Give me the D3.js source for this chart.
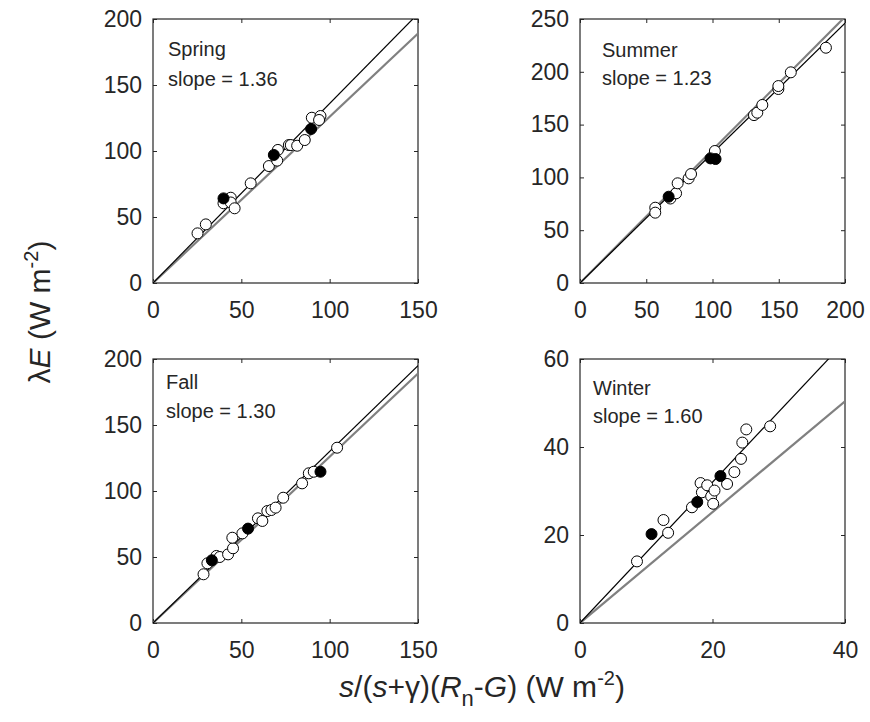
<!DOCTYPE html>
<html><head><meta charset="utf-8">
<script src="https://cdn.jsdelivr.net/npm/d3@7"></script>
<style>
body{margin:0;background:#fff;}
text{font-family:"Liberation Sans",Arial,sans-serif;fill:#262626;}
</style></head>
<body><svg id="c" width="870" height="722"></svg>
<script>
// ---------------- data ----------------
const seasons = ["Spring","Summer","Fall","Winter"];
const slopes = [1.36, 1.23, 1.30, 1.60];
const ptSlope = 1.26; // reference (gray) line slope
const xMax = [150, 200, 150, 40];
const yMax = [200, 250, 200, 60];
const xTickVals = [[0,50,100,150],[0,50,100,150,200],[0,50,100,150],[0,20,40]];
const yTickVals = [[0,50,100,150,200],[0,50,100,150,200,250],[0,50,100,150,200],[0,20,40,60]];

const springOpen = [[25.2,37.6],[29.9,44.4],[39.9,60.4],[44,64.6],[44,61],[46.2,56.6],[55.3,75.5],[65.6,88.6],[70.3,92.7],[70.7,100.8],[76.9,104.5],[78,104.5],[81.6,104],[85.9,108.3],[89.9,125.2],[94.8,126.5],[94,123.5]];
const springFilled = [[39.9,64.1],[68.4,97],[89.5,116.7]];
const summerOpen = [[56.8,71.3],[56.8,66.6],[68.2,80],[72.5,84.9],[73.7,94.4],[82,99.1],[83.8,103.2],[101.8,125],[131.3,159],[133.8,161.3],[137.6,168.6],[149.7,183.7],[149.7,186.5],[159.1,199.5],[185.6,222.8]];
const summerFilled = [[66.9,81.7],[98.5,118],[102.3,117.4]];
const fallOpen = [[28.6,36.9],[30.8,45.2],[35.9,50.8],[37.8,50],[42.5,52],[45.3,56.6],[44.9,64.6],[50.6,67.9],[59.4,79.3],[61.9,77.3],[64.7,84.8],[67,85.6],[69.4,87.4],[73.7,94.9],[84.4,105.8],[88.2,113.4],[91,114.6],[104.2,132.8]];
const fallFilled = [[33.3,47.5],[53.8,71.5],[94.8,114.6]];
const winterOpen = [[8.6,14],[12.6,23.4],[13.3,20.5],[16.9,26.3],[18.2,31.8],[18.4,29.7],[19.2,31.3],[19.8,28.8],[20.1,27.1],[20.3,30.1],[22.2,31.6],[23.3,34.3],[24.3,37.3],[24.5,41],[25.1,44],[28.7,44.7]];
const winterFilled = [[10.8,20.2],[17.7,27.5],[21.2,33.4]];
const openPts = [springOpen, summerOpen, fallOpen, winterOpen];
const filledPts = [springFilled, summerFilled, fallFilled, winterFilled];

// ---------------- layout ----------------
const panels = [
  {x0:153, y0:19, lx:15, ly1:37, ly2:67},
  {x0:580, y0:19, lx:22, ly1:38, ly2:66},
  {x0:153, y0:359, lx:13, ly1:30, ly2:59},
  {x0:580, y0:359, lx:13, ly1:36, ly2:64}
];
const W = 265, H = 264;
const axisCol = "#262626";

const svg = d3.select("#c");
const defs = svg.append("defs");

panels.forEach((p, i) => {
  const x = d3.scaleLinear().domain([0, xMax[i]]).range([0, W]);
  const y = d3.scaleLinear().domain([0, yMax[i]]).range([H, 0]);
  const g = svg.append("g").attr("transform", `translate(${p.x0},${p.y0})`);

  defs.append("clipPath").attr("id", "clip" + i)
    .append("rect").attr("width", W).attr("height", H);

  const tl = 4;
  const bottom = d3.axisBottom(x).tickValues(xTickVals[i]).tickSize(-tl).tickPadding(19).tickFormat(d3.format("d"));
  const left = d3.axisLeft(y).tickValues(yTickVals[i]).tickSize(-tl).tickPadding(11).tickFormat(d3.format("d"));
  const top = d3.axisTop(x).tickValues(xTickVals[i]).tickSize(-tl).tickFormat("");
  const right = d3.axisRight(y).tickValues(yTickVals[i]).tickSize(-tl).tickFormat("");

  const styleAxis = sel => {
    sel.select(".domain").attr("d", null);
    sel.selectAll(".tick line").attr("stroke", axisCol);
    sel.selectAll(".tick text").attr("font-size", 23).attr("fill", axisCol)
      .attr("font-family", '"Liberation Sans",Arial,sans-serif');
  };
  g.append("g").attr("transform", `translate(0,${H})`).call(bottom).call(styleAxis);
  g.append("g").call(left).call(styleAxis);
  g.append("g").call(top).call(styleAxis);
  g.append("g").attr("transform", `translate(${W},0)`).call(right).call(styleAxis);
  g.append("rect").attr("width", W).attr("height", H).attr("fill", "none")
    .attr("stroke", axisCol).attr("stroke-width", 1.2);

  const plot = g.append("g").attr("clip-path", `url(#clip${i})`);
  const xe = xMax[i];
  plot.append("line")
    .attr("x1", x(0)).attr("y1", y(0))
    .attr("x2", x(xe)).attr("y2", y(ptSlope * xe))
    .attr("stroke", "#808080").attr("stroke-width", 2.2);
  plot.append("line")
    .attr("x1", x(0)).attr("y1", y(0))
    .attr("x2", x(xe)).attr("y2", y(slopes[i] * xe))
    .attr("stroke", "#000").attr("stroke-width", 1.2);

  plot.selectAll("circle.o").data(openPts[i]).join("circle").attr("class", "o")
    .attr("cx", d => x(d[0])).attr("cy", d => y(d[1])).attr("r", 5.5)
    .attr("fill", "#fff").attr("stroke", "#000").attr("stroke-width", 1);
  plot.selectAll("circle.f").data(filledPts[i]).join("circle").attr("class", "f")
    .attr("cx", d => x(d[0])).attr("cy", d => y(d[1])).attr("r", 5.5)
    .attr("fill", "#000").attr("stroke", "#000").attr("stroke-width", 1);

  g.append("text").attr("x", p.lx).attr("y", p.ly1).attr("font-size", 20).text(seasons[i]);
  g.append("text").attr("x", p.lx).attr("y", p.ly2).attr("font-size", 20)
    .text("slope = " + slopes[i].toFixed(2));
});

// y-axis label
const yl = svg.append("text").attr("font-size", 30)
  .attr("transform", "translate(50,312) rotate(-90)").attr("text-anchor", "middle");
yl.append("tspan").text("λ");
yl.append("tspan").attr("font-style", "italic").text("E");
yl.append("tspan").text(" (W m");
yl.append("tspan").attr("font-size", 20).attr("dy", -12).text("-2");
yl.append("tspan").attr("dy", 12).text(")");

// x-axis label
const xl = svg.append("text").attr("font-size", 30).attr("x", 482).attr("y", 697).attr("text-anchor", "middle");
xl.append("tspan").attr("font-style", "italic").text("s");
xl.append("tspan").text("/(");
xl.append("tspan").attr("font-style", "italic").text("s");
xl.append("tspan").text("+γ)(");
xl.append("tspan").attr("font-style", "italic").text("R");
xl.append("tspan").attr("font-size", 22).attr("dy", 9).text("n");
xl.append("tspan").attr("dy", -9).text("-");
xl.append("tspan").attr("font-style", "italic").text("G");
xl.append("tspan").text(") (W m");
xl.append("tspan").attr("font-size", 20).attr("dy", -12).text("-2");
xl.append("tspan").attr("dy", 12).text(")");
</script></body></html>
